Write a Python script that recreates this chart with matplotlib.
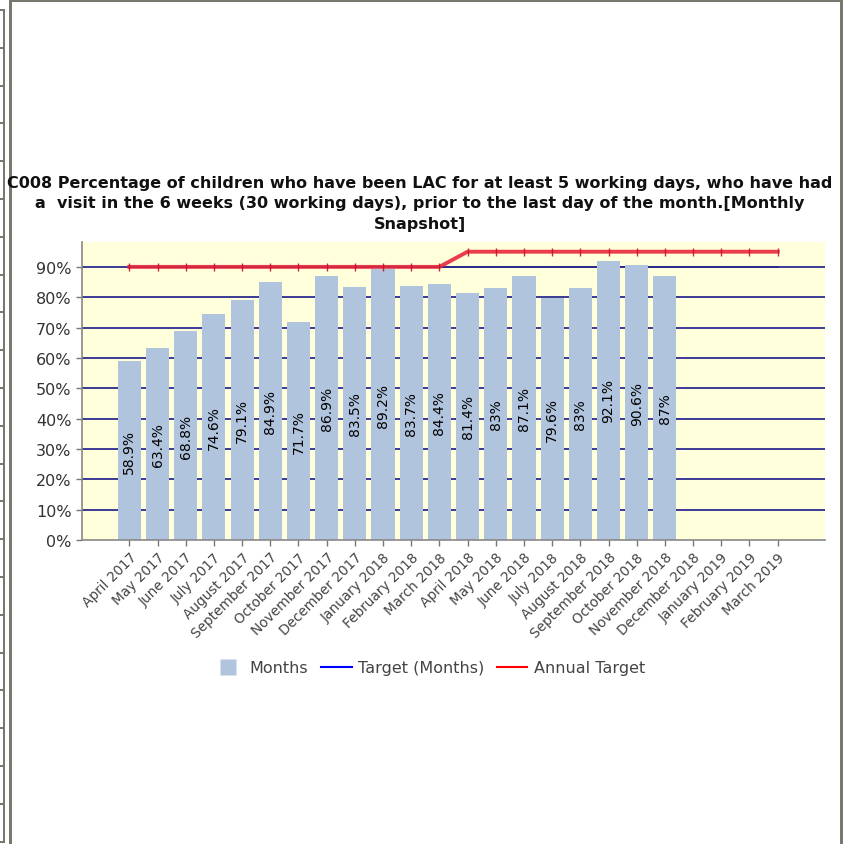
import matplotlib
matplotlib.use("Agg")
import matplotlib.pyplot as plt
from matplotlib.patches import Rectangle
from matplotlib.lines import Line2D
import numpy as np

months = ["April 2017", "May 2017", "June 2017", "July 2017", "August 2017",
          "September 2017", "October 2017", "November 2017", "December 2017",
          "January 2018", "February 2018", "March 2018", "April 2018", "May 2018",
          "June 2018", "July 2018", "August 2018", "September 2018", "October 2018",
          "November 2018", "December 2018", "January 2019", "February 2019", "March 2019"]
values = [58.9, 63.4, 68.8, 74.6, 79.1, 84.9, 71.7, 86.9, 83.5, 89.2, 83.7, 84.4,
          81.4, 83, 87.1, 79.6, 83, 92.1, 90.6, 87]
target_months = [90] * 24
annual_target = [90] * 12 + [95] * 12

W = H = 845
fig = plt.figure(figsize=(8.45, 8.45), dpi=100)
fig.patch.set_facecolor("white")

def px_rect(x0, y0, x1, y1, color):
    fig.add_artist(Rectangle((x0 / W, 1 - y1 / H), (x1 - x0) / W, (y1 - y0) / H,
                             transform=fig.transFigure, facecolor=color,
                             edgecolor="none", zorder=0))

# window frame
frame = "#78786e"
px_rect(9, 0, 843, 3, frame)
px_rect(840, 0, 843, 845, frame)
px_rect(9, 0, 12, 845, frame)
px_rect(3, 10, 5, 843, frame)
for yy in np.arange(10, 843, 37.8):
    px_rect(0, yy, 5, yy + 2, frame)

ax_l, ax_r, ax_t, ax_b = 82, 825, 243, 541
ax = fig.add_axes([ax_l / W, 1 - ax_b / H, (ax_r - ax_l) / W, (ax_b - ax_t) / H])
ax.set_facecolor("#ffffdc")

x = np.arange(len(months))
navy = "#2b2b8f"
for g in range(10, 100, 10):
    ax.axhline(g, color=navy, lw=1.3, zorder=1)

xv = np.arange(len(values))
ax.bar(xv, values, width=0.82, color="#b0c4de", zorder=2)
for xi, v in zip(xv, values):
    ax.text(xi, v / 2, f"{v:g}%", rotation=90, ha="center", va="center",
            fontsize=10, color="black", zorder=4)

ax.plot(x, target_months, color=navy, lw=1.3, zorder=1)
ax.plot(x, annual_target, color="#e8283c", lw=2.8, alpha=0.9, zorder=3,
        marker="|", markersize=6, markeredgewidth=1, markeredgecolor="#c8102e")

ax.set_xlim(-1.68, 24.68)
ax.set_ylim(0, 98.2)
ax.set_yticks(range(0, 100, 10))
ax.set_yticklabels([f"{t}%" for t in range(0, 100, 10)], fontsize=11.5, color="#333333")
ax.set_xticks(x)
ax.set_xticklabels(months, rotation=45, ha="right", rotation_mode="anchor",
                   fontsize=9.8, color="#444444")
ax.tick_params(axis="both", length=4, color="#777777", width=1)
ax.tick_params(axis="x", pad=3)
for s in ("top", "right"):
    ax.spines[s].set_visible(False)
for s in ("left", "bottom"):
    ax.spines[s].set_color("#888888")
    ax.spines[s].set_linewidth(1.2)

fig.text(420 / W, 1 - 176 / H,
         "C008 Percentage of children who have been LAC for at least 5 working days, who have had\n"
         "a  visit in the 6 weeks (30 working days), prior to the last day of the month.[Monthly\n"
         "Snapshot]",
         ha="center", va="top", fontsize=11.5, fontweight="bold", color="#111111",
         linespacing=1.45)

handles = [Line2D([], [], ls="none", marker="s", markersize=11,
                  markerfacecolor="#b0c4de", markeredgecolor="none"),
           Line2D([], [], color="#0000ff", lw=1.5),
           Line2D([], [], color="#ff0000", lw=1.5)]
fig.legend(handles, ["Months", "Target (Months)", "Annual Target"],
           loc="center", bbox_to_anchor=(429 / W, 1 - 669 / H), ncol=3,
           frameon=False, fontsize=11.5, labelcolor="#444444",
           handlelength=1.9, handletextpad=0.4, columnspacing=0.8)

fig.savefig("out.png", dpi=100)
